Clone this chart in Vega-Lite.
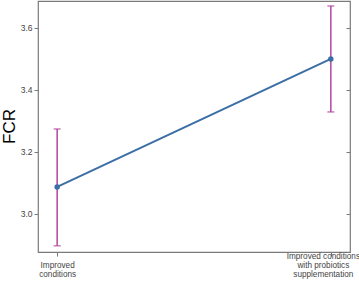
{
  "$schema": "https://vega.github.io/schema/vega-lite/v6.json",
  "width": 312,
  "height": 251,
  "padding": {"left": 38, "top": 1, "right": 9, "bottom": 30},
  "autosize": {"type": "none"},
  "config": {
    "view": {"stroke": "#7a7a7a", "strokeWidth": 1.2},
    "font": "Liberation Sans",
    "axis": {"grid": false, "domain": false, "tickColor": "#7a7a7a", "labelColor": "#444444", "labelFontSize": 8.5, "tickSize": 4}
  },
  "data": {
    "values": [
      {"group": "Improved|conditions", "fcr": 3.087, "lo": 2.897, "hi": 3.274},
      {"group": "Improved  conditions|with probiotics|supplementation", "fcr": 3.5, "lo": 3.329, "hi": 3.671}
    ]
  },
  "encoding": {
    "x": {
      "field": "group", "type": "ordinal", "sort": null,
      "scale": {"type": "point", "padding": 0.07},
      "axis": {"title": null, "labelAngle": 0, "labelExpr": "split(datum.label, '|')", "labelFontSize": 8.2, "labelLineHeight": 9.3, "labelBaseline": "top", "labelBound": false, "labelOverlap": false,
        "labelPadding": {"condition": {"test": "datum.index > 0.5", "value": -4}, "value": 5},
        "labelOffset": {"condition": {"test": "datum.index > 0.5", "value": -8}, "value": 0}}
    }
  },
  "layer": [
    {
      "mark": {"type": "rule", "color": "#b5459e", "strokeWidth": 1.5},
      "encoding": {
        "y": {"field": "lo", "type": "quantitative", "scale": {"domain": [2.877, 3.687], "nice": false, "zero": false},
              "axis": {"title": "FCR", "titleFontSize": 17, "titleFontWeight": "normal", "titleColor": "#000000", "titleX": -24, "titleY": 125, "titleBaseline": "alphabetic", "titleAngle": 270, "titleAlign": "center", "values": [3.0, 3.2, 3.4, 3.6], "format": ".1f", "labelPadding": 2}},
        "y2": {"field": "hi"}
      }
    },
    {
      "mark": {"type": "tick", "color": "#b5459e", "thickness": 1.5, "size": 7},
      "encoding": {"y": {"field": "lo", "type": "quantitative", "axis": {"orient": "right", "labels": false, "title": null, "values": [3.0, 3.2, 3.4, 3.6], "tickSize": -4}}}
    },
    {
      "mark": {"type": "tick", "color": "#b5459e", "thickness": 1.5, "size": 7},
      "encoding": {"y": {"field": "hi", "type": "quantitative", "axis": null}}
    },
    {
      "mark": {"type": "line", "color": "#3b6ea5", "strokeWidth": 2, "point": {"color": "#3b6ea5", "size": 30, "filled": true}},
      "encoding": {"y": {"field": "fcr", "type": "quantitative", "axis": null}}
    }
  ],
  "resolve": {"axis": {"y": "independent"}}
}
